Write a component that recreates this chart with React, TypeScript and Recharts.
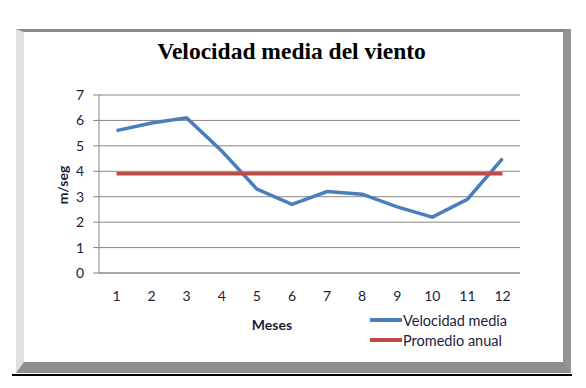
import React from 'react';
import { LineChart, Line, XAxis, YAxis, CartesianGrid } from 'recharts';

const meses = ['1', '2', '3', '4', '5', '6', '7', '8', '9', '10', '11', '12'];
const velocidadMedia = [5.6, 5.9, 6.1, 4.8, 3.3, 2.7, 3.2, 3.1, 2.6, 2.2, 2.9, 4.5];
const promedioAnual = [3.9, 3.9, 3.9, 3.9, 3.9, 3.9, 3.9, 3.9, 3.9, 3.9, 3.9, 3.9];
const yTicks = [0, 1, 2, 3, 4, 5, 6, 7];

const series = [
  { key: 'velocidad', name: 'Velocidad media', color: '#4A7EBB' },
  { key: 'promedio', name: 'Promedio anual', color: '#BE4B48' },
];

const data = meses.map((mes, i) => ({
  mes,
  velocidad: velocidadMedia[i],
  promedio: promedioAnual[i],
}));

const textColor = '#1c1c3c';
const gridColor = '#878787';
const font = 'Lato, "Open Sans", sans-serif';

export default function App() {
  return (
    <div style={{ position: 'absolute', left: 0, top: 0, width: 586, height: 388, background: '#fff' }}>
      {/* beveled frame */}
      <div
        style={{
          position: 'absolute',
          left: 16,
          top: 29,
          width: 539,
          height: 330,
          borderTop: '3px solid #8a8a8a',
          borderLeft: '8px solid #e0e0e0',
          borderRight: '8px solid #959595',
          borderBottom: '11px solid #8f8f8f',
          background: '#fff',
        }}
      />
      <div style={{ position: 'absolute', left: 12, top: 374, width: 560, height: 2, background: '#000' }} />

      <div
        style={{
          position: 'absolute',
          left: 0,
          width: 586,
          top: 38,
          textAlign: 'center',
          paddingRight: 3,
          boxSizing: 'border-box',
          fontFamily: '"Liberation Serif", serif',
          fontWeight: 'bold',
          fontSize: 23.5,
          color: '#000',
        }}
      >
        Velocidad media del viento
      </div>

      <div style={{ position: 'absolute', left: 0, top: 0 }}>
        <LineChart width={586} height={388} data={data} margin={{ top: 95, right: 66, bottom: 85, left: 0 }}>
          <CartesianGrid vertical={false} stroke={gridColor} strokeWidth={1} />
          <XAxis
            dataKey="mes"
            height={30}
            padding={{ left: 17.5, right: 17.5 }}
            tickLine={false}
            axisLine={{ stroke: gridColor }}
            tickMargin={12}
            tick={{ fill: textColor, fontSize: 14, fontFamily: font }}
          />
          <YAxis
            width={99}
            domain={[0, 7]}
            ticks={yTicks}
            interval={0}
            tickSize={6}
            tickMargin={9}
            tickLine={{ stroke: gridColor }}
            axisLine={{ stroke: gridColor }}
            tick={{ fill: textColor, fontSize: 14, fontFamily: font }}
          />
          {series.map((s) => (
            <Line
              key={s.key}
              type="linear"
              dataKey={s.key}
              name={s.name}
              stroke={s.color}
              strokeWidth={3.5}
              dot={false}
              isAnimationActive={false}
            />
          ))}
        </LineChart>
      </div>

      <div
        style={{
          position: 'absolute',
          left: 62,
          top: 185,
          transform: 'translate(-50%, -50%) rotate(-90deg)',
          fontFamily: font,
          fontWeight: 'bold',
          fontSize: 14,
          color: textColor,
          whiteSpace: 'nowrap',
        }}
      >
        m/seg
      </div>
      <div
        style={{
          position: 'absolute',
          left: 272,
          top: 324,
          transform: 'translate(-50%, -50%)',
          fontFamily: font,
          fontWeight: 'bold',
          fontSize: 14,
          color: textColor,
        }}
      >
        Meses
      </div>

      <div style={{ position: 'absolute', left: 370, top: 310, fontFamily: font, fontSize: 14.5, color: textColor }}>
        {series.map((s) => (
          <div key={s.key} style={{ display: 'flex', alignItems: 'center', height: 20 }}>
            <span style={{ display: 'inline-block', width: 32, height: 3.5, background: s.color, marginRight: 1 }} />
            <span>{s.name}</span>
          </div>
        ))}
      </div>
    </div>
  );
}
